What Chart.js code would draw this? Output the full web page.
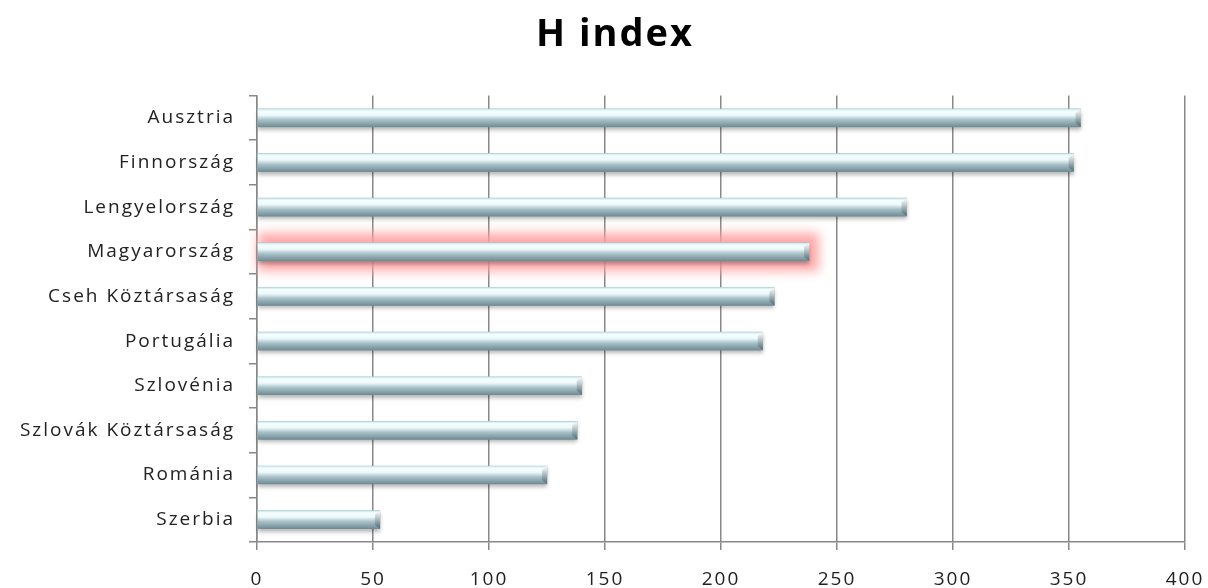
<!DOCTYPE html>
<html>
<head>
<meta charset="utf-8">
<script src="https://cdn.jsdelivr.net/npm/chart.js"></script>
<style>
  body { margin: 0; background: #fff; }
</style>
</head>
<body>
<canvas id="chart" width="1208" height="588"></canvas>
<script>
const countries = ["Ausztria", "Finnország", "Lengyelország", "Magyarország", "Cseh Köztársaság",
                   "Portugália", "Szlovénia", "Szlovák Köztársaság", "Románia", "Szerbia"];
const hIndex = [355, 352, 280, 238, 223, 218, 140, 138, 125, 53];
const highlighted = "Magyarország";

// the reference text is rendered quite loosely spaced
const spacingPlugin = {
    id: "spacing",
    afterLayout(chart) {
        // title sits a bit right of the canvas centre in the reference
        if (chart.titleBlock) {
            chart.titleBlock.left = 22;
            chart.titleBlock.right = 1208;
        }
    },
    beforeDraw(chart) {
        chart.ctx.letterSpacing = "2px";
    }
};

const barPlugin = {
    id: "bevel",
    beforeDatasetsDraw(chart) {
        // soft pink glow behind the highlighted bar (shadow only, shape drawn off-canvas)
        const bar = chart.getDatasetMeta(0).data[countries.indexOf(highlighted)];
        if (!bar) return;
        const ctx = chart.ctx;
        const h = bar.height;
        const off = 5000;
        ctx.save();
        ctx.shadowColor = "rgba(255,160,160,0.9)";
        ctx.shadowBlur = 10;
        ctx.shadowOffsetX = off;
        ctx.fillStyle = "#000";
        ctx.fillRect(bar.base - off, bar.y - h / 2 - 10, bar.x - bar.base + 10, h + 20);
        ctx.restore();
    },
    afterDatasetsDraw(chart) {
        const ctx = chart.ctx;
        ctx.save();
        chart.getDatasetMeta(0).data.forEach(bar => {
            const h = bar.height;
            const top = bar.y - h / 2;
            const w = bar.x - bar.base;
            const g = ctx.createLinearGradient(0, top, 0, top + h);
            g.addColorStop(0, "#c4e2ea");
            g.addColorStop(0.12, "#f4feff");
            g.addColorStop(0.35, "#eef9fb");
            g.addColorStop(0.6, "#a9c2c9");
            g.addColorStop(1, "#6f8b94");
            ctx.shadowColor = "rgba(0,0,0,0.28)";
            ctx.shadowBlur = 4;
            ctx.shadowOffsetY = 3;
            ctx.fillStyle = g;
            ctx.fillRect(bar.base, top, w, h);
            ctx.shadowColor = "transparent";
            // chamfered right end
            const e = ctx.createLinearGradient(0, top, 0, top + h);
            e.addColorStop(0, "rgba(255,255,255,0.9)");
            e.addColorStop(1, "rgba(70,95,105,0.8)");
            ctx.fillStyle = e;
            ctx.beginPath();
            ctx.moveTo(bar.x, top);
            ctx.lineTo(bar.x, top + h);
            ctx.lineTo(bar.x - 5, top + h - 4);
            ctx.lineTo(bar.x - 5, top + 4);
            ctx.closePath();
            ctx.fill();
        });
        ctx.restore();
    }
};

new Chart(document.getElementById("chart"), {
    type: "bar",
    data: {
        labels: countries,
        datasets: [{
            label: "H index",
            data: hIndex,
            backgroundColor: "#a9c3ca",
            borderWidth: 0,
            barThickness: 18
        }]
    },
    options: {
        indexAxis: "y",
        responsive: false,
        animation: false,
        layout: { padding: { top: 0, right: 0, bottom: 0, left: 0 } },
        plugins: {
            legend: { display: false },
            tooltip: { enabled: false },
            title: {
                display: true,
                text: "H index",
                color: "#000",
                font: { family: "Open Sans", size: 38, weight: "bold", lineHeight: 1.2 },
                padding: { top: 12, bottom: 38 }
            }
        },
        scales: {
            x: {
                min: 0,
                max: 400,
                ticks: {
                    stepSize: 50,
                    color: "#222",
                    padding: 18,
                    font: { family: "Open Sans", size: 19 }
                },
                grid: { color: "#888", tickLength: 8, lineWidth: 1.5 },
                border: { color: "#888", width: 1.5 },
                afterFit(scale) {
                    scale.height = 46;
                    scale.paddingLeft = 0;
                    scale.paddingRight = 23;
                }
            },
            y: {
                ticks: {
                    color: "#222",
                    padding: 14,
                    font: { family: "Open Sans", size: 19 }
                },
                grid: { drawOnChartArea: false, color: "#888", tickLength: 8, offset: true, lineWidth: 1.5 },
                border: { color: "#888", width: 1.5 },
                afterFit(scale) { scale.width = 257; }
            }
        }
    },
    plugins: [spacingPlugin, barPlugin]
});
</script>
</body>
</html>
